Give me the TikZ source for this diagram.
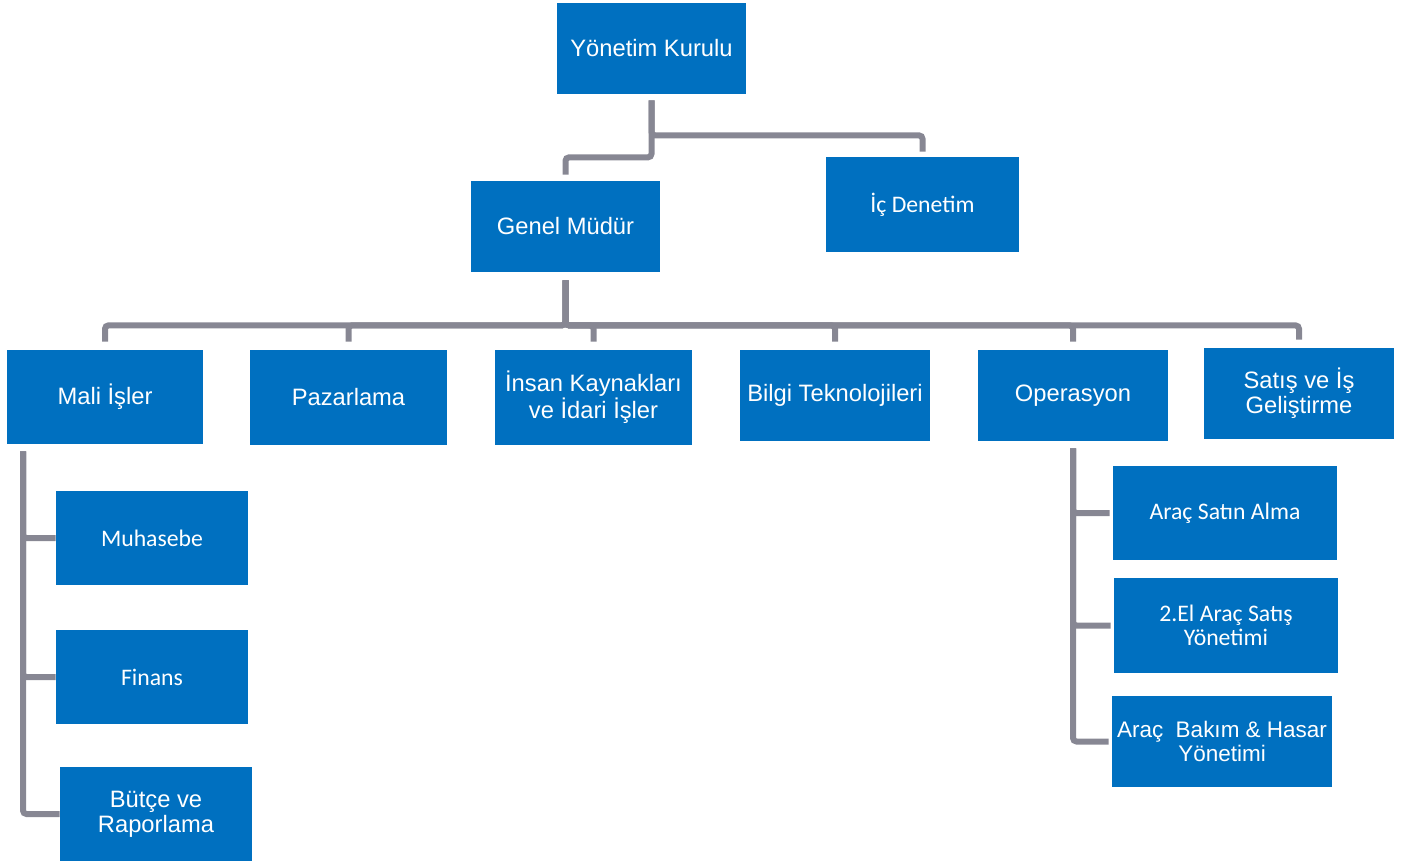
\documentclass[tikz,border=0pt]{standalone}
\usepackage{fontspec}
\setmainfont{Liberation Sans}
\newfontfamily\calibri{Carlito}
\usetikzlibrary{positioning,
  calc
}

\definecolor{boxblue}{HTML}{0070C0}
\definecolor{linkgray}{HTML}{878793}

\tikzset{
  box/.style={fill=boxblue, text=white, inner sep=0pt, align=center,
    font=\fontsize{13.5}{14}\selectfont},
  cbox/.style={box, font=\calibri\fontsize{13.5}{14}\selectfont},
  link/.style={linkgray, line width=0.12cm, rounded corners=2pt}
}

\begin{document}
\begin{tikzpicture}
  \useasboundingbox (0, 0) rectangle (28.22, -17.22);

  % top
  \node[box, minimum width=3.78cm, minimum height=1.82cm] (yk) at (13.03, -0.97) {Yönetim Kurulu};
  \node[box, minimum width=3.78cm, minimum height=1.82cm] (gm) at (11.31, -4.53) {Genel Müdür};
  \node[cbox, minimum width=3.86cm, minimum height=1.90cm] (ic) at (18.45, -4.09) {İç Denetim};

  \draw[link] ([yshift=-0.12cm]yk.south) -- ++(0, -1.14) -| ([yshift=0.12cm]gm.north);
  \draw[link] ([yshift=-0.12cm]yk.south) -- ++(0, -0.7) -| ([yshift=0.1cm]ic.north);

  % ~8
  \node[box, minimum width=3.92cm, minimum height=1.88cm] (mali) at (2.10, -7.94) {Mali İşler};
  \node[box, minimum width=3.94cm, minimum height=1.90cm] (paz) at (6.97, -7.95) {Pazarlama};
  \node[box, minimum width=3.94cm, minimum height=1.90cm] (ik) at (11.87, -7.95) {İnsan Kaynakları\\ve İdari İşler};
  \node[box, minimum width=3.80cm, minimum height=1.82cm] (bt) at (16.70, -7.91) {Bilgi Teknolojileri};
  \node[box, minimum width=3.80cm, minimum height=1.82cm] (op) at (21.46, -7.91) {Operasyon};
  \node[box, minimum width=3.80cm, minimum height=1.82cm] (sat) at (25.98, -7.87) {Satış ve İş\\Geliştirme};

  \foreach \n in {mali, paz, ik, bt, op, sat}
    \draw[link] ([yshift=-0.16cm]gm.south) -- ++(0, -0.9) -| ([yshift=0.16cm]\n.north);

  % Mali Isler
  \node[cbox, minimum width=3.84cm, minimum height=1.88cm] (muh) at (3.04, -10.76) {Muhasebe};
  \node[cbox, minimum width=3.84cm, minimum height=1.88cm] (fin) at (3.04, -13.54) {Finans};
  \node[box, minimum width=3.84cm, minimum height=1.88cm] (but) at (3.12, -16.28) {Bütçe ve\\Raporlama};

  \foreach \n in {muh, fin, but}
    \draw[link] ([xshift=-1.64cm, yshift=-0.14cm]mali.south) |- (\n.west);

  % Operasyon
  \node[cbox, minimum width=4.48cm, minimum height=1.88cm] (asa) at (24.50, -10.26) {Araç Satın Alma};
  \node[cbox, minimum width=4.48cm, minimum height=1.90cm] (el) at (24.52, -12.51) {2.El Araç Satış\\Yönetimi};
  \node[box, minimum width=4.40cm, minimum height=1.82cm, font=\fontsize{12.8}{14}\selectfont] (abh) at (24.44, -14.83) {Araç\ \ Bakım \& Hasar\\Yönetimi};

  \foreach \n in {asa, el, abh}
    \draw[link] ([yshift=-0.14cm]op.south) |- ([xshift=-0.06cm]\n.west);
\end{tikzpicture}
\end{document}
